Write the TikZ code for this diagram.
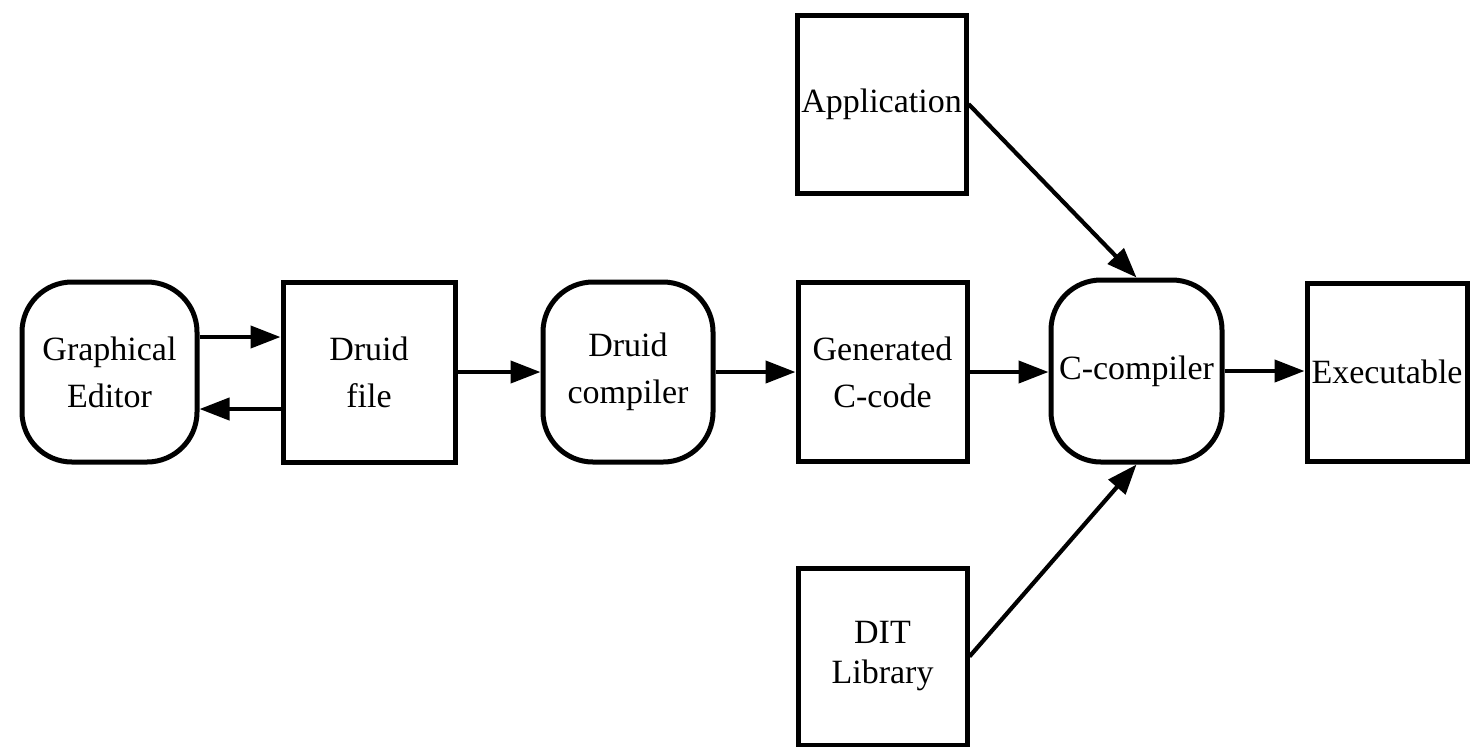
\documentclass[tikz,border=0pt]{standalone}
\usepackage{fontspec}
\setmainfont{Liberation Serif}
\usetikzlibrary{arrows.meta}
\begin{document}
\begin{tikzpicture}[x=0.5pt,y=-0.5pt,
  box/.style={draw, line width=2.5pt, inner sep=1pt, align=center,
    font=\fontsize{17}{23.5}\selectfont},
  rbox/.style={box, rounded corners=25pt},
  flow/.style={-{Triangle[length=15pt,width=11pt]}, line width=2.1pt}]
\fill[white] (0,0) rectangle (1471,746);
\useasboundingbox (0,0) rectangle (1471,746);

% processing chain
\node[rbox, minimum width=87.5pt, minimum height=90pt] (ge) at (109.5,372) {Graphical\\Editor};
\node[box,  minimum width=86pt,   minimum height=90pt] (df) at (369,372) {Druid\\file};
\node[rbox, minimum width=85pt,   minimum height=90pt] (dc) at (628,372) {Druid\\compiler};
\node[box,  minimum width=84.5pt, minimum height=89.5pt] (gc) at (882.5,372) {Generated\\C-code};
\node[rbox, minimum width=85.5pt, minimum height=91pt] (cc) at (1136.5,371) {C-compiler};
\node[box,  minimum width=80pt,   minimum height=89pt] (ex) at (1387,372) {Executable};

% extra inputs to the C compiler
\node[box, minimum width=84.5pt, minimum height=89pt] (ap) at (881.5,104) {Application};
\node[box, minimum width=84.5pt, minimum height=88.5pt,
  font=\fontsize{17}{20}\selectfont] (dl) at (882.5,656.5) {DIT\\Library};

% connectors
\draw[flow] ([yshift=17.5pt]ge.east) -- ([yshift=17.5pt]df.west);
\draw[flow] ([yshift=-18.5pt]df.west) -- ([yshift=-18.5pt]ge.east);
\draw[flow] (df.east) -- (dc.west);
\draw[flow] (dc.east) -- (gc.west);
\draw[flow] (gc.east) -- (gc.east -| cc.west);
\draw[flow] (cc.east) -- (cc.east -| ex.west);
\draw[flow] (ap.east) -- (cc.north);
\draw[flow] (dl.east) -- (cc.south);
\end{tikzpicture}
\end{document}
